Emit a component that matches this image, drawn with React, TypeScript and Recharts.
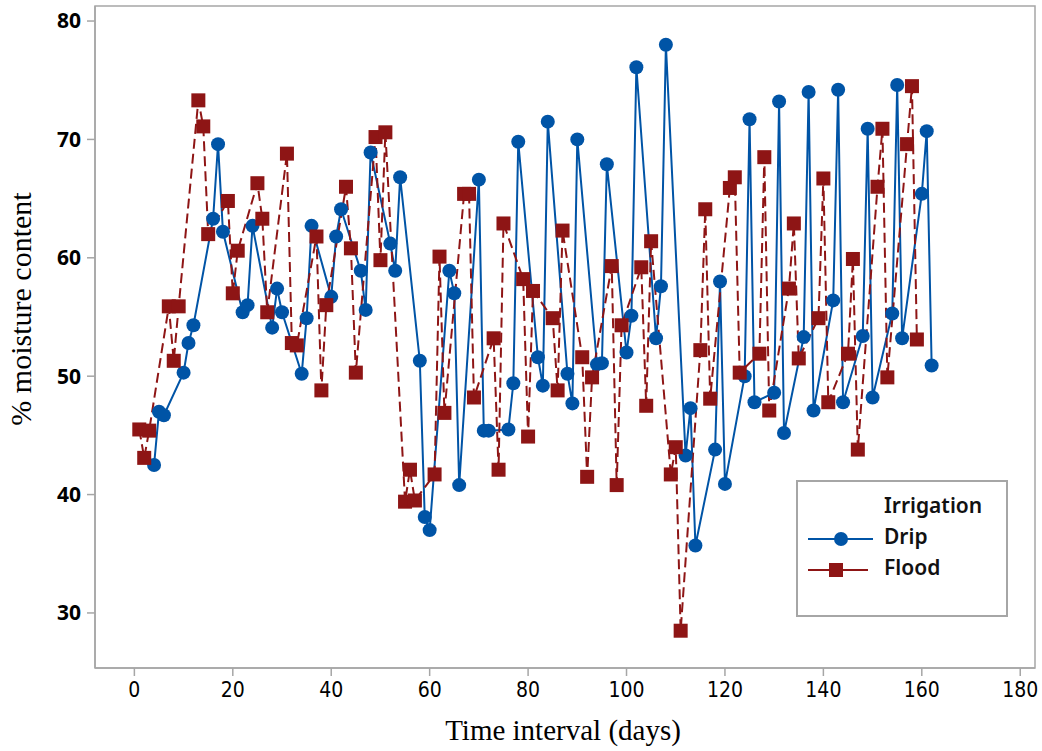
import React from "react";
import { LineChart, Line, XAxis, YAxis, ReferenceArea } from "recharts";

// days on which each irrigation plot was sampled
const dripDays = [
  4, 5, 6, 10, 11, 12, 16, 17, 18, 22, 23, 24, 28, 29, 30, 34, 35, 36, 40, 41,
  42, 46, 47, 48, 52, 53, 54, 58, 59, 60, 64, 65, 66, 70, 71, 72, 76, 77, 78,
  82, 83, 84, 88, 89, 90, 94, 95, 96, 100, 101, 102, 106, 107, 108, 112, 113,
  114, 118, 119, 120, 124, 125, 126, 130, 131, 132, 136, 137, 138, 142, 143,
  144, 148, 149, 150, 154, 155, 156, 160, 161, 162,
];
const dripValues = [
  42.5, 47.0, 46.7, 50.3, 52.8, 54.3, 63.3, 69.6, 62.2, 55.4, 56.0, 62.7, 54.1,
  57.4, 55.4, 50.2, 54.9, 62.7, 56.7, 61.8, 64.1, 58.9, 55.6, 68.9, 61.2, 58.9,
  66.8, 51.3, 38.1, 37.0, 58.9, 57.0, 40.8, 66.6, 45.4, 45.4, 45.5, 49.4, 69.8,
  51.6, 49.2, 71.5, 50.2, 47.7, 70.0, 51.0, 51.1, 67.9, 52.0, 55.1, 76.1, 53.2,
  57.6, 78.0, 43.3, 47.3, 35.7, 43.8, 58.0, 40.9, 50.0, 71.7, 47.8, 48.6, 73.2,
  45.2, 53.3, 74.0, 47.1, 56.4, 74.2, 47.8, 53.4, 70.9, 48.2, 55.3, 74.6, 53.2,
  65.4, 70.7, 50.9,
];

const floodDays = [
  1, 2, 3, 7, 8, 9, 13, 14, 15, 19, 20, 21, 25, 26, 27, 31, 32, 33, 37, 38, 39,
  43, 44, 45, 49, 50, 51, 55, 56, 57, 61, 62, 63, 67, 68, 69, 73, 74, 75, 79,
  80, 81, 85, 86, 87, 91, 92, 93, 97, 98, 99, 103, 104, 105, 109, 110, 111,
  115, 116, 117, 121, 122, 123, 127, 128, 129, 133, 134, 135, 139, 140, 141,
  145, 146, 147, 151, 152, 153, 157, 158, 159,
];
const floodValues = [
  45.5, 43.1, 45.4, 55.9, 51.3, 55.9, 73.3, 71.1, 62.0, 64.8, 57.0, 60.6, 66.3,
  63.3, 55.4, 68.8, 52.8, 52.6, 61.8, 48.8, 56.0, 66.0, 60.8, 50.3, 70.2, 59.8,
  70.6, 39.4, 42.1, 39.5, 41.7, 60.1, 46.9, 65.4, 65.4, 48.2, 53.2, 42.1, 62.9,
  58.2, 44.9, 57.2, 54.9, 48.8, 62.3, 51.6, 41.5, 49.9, 59.3, 40.8, 54.3, 59.2,
  47.5, 61.4, 41.7, 44.0, 28.5, 52.2, 64.1, 48.1, 65.9, 66.8, 50.3, 51.9, 68.5,
  47.1, 57.4, 62.9, 51.5, 54.9, 66.7, 47.8, 51.9, 59.9, 43.8, 66.0, 70.9, 49.9,
  69.6, 74.5, 53.1,
];

const xTicks = [0, 20, 40, 60, 80, 100, 120, 140, 160, 180];
const yTicks = [30, 40, 50, 60, 70, 80];

const dripData = dripDays.map((day, i) => ({ day, value: dripValues[i] }));
const floodData = floodDays.map((day, i) => ({ day, value: floodValues[i] }));

const BLUE = "#0054A6";
const RED = "#8E1515";
const FRAME = "#A6A6A6";
const X_MIN = -8;
const X_MAX = 183;
const Y_MIN = 25.35;
const Y_MAX = 81.27;

const serif = "'Liberation Serif', 'DejaVu Serif', serif";

const SquareDot = (props: any) => {
  const { cx, cy, index } = props;
  if (cx == null || cy == null) return null;
  return (
    <rect key={`sq-${index}`} x={cx - 7} y={cy - 7} width={14} height={14} fill={RED} />
  );
};

const CircleDot = (props: any) => {
  const { cx, cy, index } = props;
  if (cx == null || cy == null) return null;
  return <circle key={`ci-${index}`} cx={cx} cy={cy} r={7} fill={BLUE} />;
};

const YTitle = () => (
  <text
    x={31}
    y={309}
    transform="rotate(-90 31 309)"
    textAnchor="middle"
    fill="#000"
    fontSize={30}
    fontFamily={serif}
  >
    % moisture content
  </text>
);

const XTitle = () => (
  <text
    x={563}
    y={740}
    textAnchor="middle"
    fill="#000"
    fontSize={29}
    fontFamily={serif}
  >
    Time interval (days)
  </text>
);

const LegendBox = () => (
  <div
    style={{
      position: "absolute",
      left: 796,
      top: 480,
      width: 208,
      height: 133,
      border: `2px solid ${FRAME}`,
      background: "#fff",
      fontFamily: "'Noto Sans', 'Open Sans', sans-serif",
      fontSize: 21,
      fontWeight: 600,
      color: "#111",
      lineHeight: 1,
    }}
  >
    <div style={{ position: "absolute", left: 86, top: 13 }}>Irrigation</div>
    <svg width={80} height={100} style={{ position: "absolute", left: 0, top: 0 }}>
      <line x1={10} x2={75} y1={57} y2={57} stroke={BLUE} strokeWidth={2} />
      <circle cx={43} cy={57} r={7} fill={BLUE} />
      <line x1={10} x2={70} y1={88} y2={88} stroke={RED} strokeWidth={2} />
      <rect x={31} y={81} width={14} height={14} fill={RED} />
    </svg>
    <div style={{ position: "absolute", left: 86, top: 44 }}>Drip</div>
    <div style={{ position: "absolute", left: 86, top: 75 }}>Flood</div>
  </div>
);

export default function App() {
  return (
    <div style={{ position: "absolute", left: 0, top: 0, width: 1042, height: 751, background: "#fff" }}>
      <LineChart
        width={1042}
        height={751}
        margin={{ top: 6, right: 7, bottom: 0, left: 0 }}
      >
        <XAxis
          type="number"
          dataKey="day"
          domain={[X_MIN, X_MAX]}
          ticks={xTicks}
          allowDataOverflow
          height={83}
          stroke={FRAME}
          strokeWidth={1.5}
          tickSize={8}
          tickMargin={6}
          tick={{
            fill: "#000",
            fontSize: 21,
            fontFamily: "'Liberation Sans Narrow', 'DejaVu Sans Condensed', sans-serif",
          }}
          label={<XTitle />}
        />
        <YAxis
          type="number"
          domain={[Y_MIN, Y_MAX]}
          ticks={yTicks}
          allowDataOverflow
          width={95}
          stroke={FRAME}
          strokeWidth={1.5}
          tickSize={8}
          tickMargin={6}
          tick={{
            fill: "#000",
            fontSize: 21,
            fontWeight: 700,
            fontFamily: "'Noto Sans', 'Open Sans', sans-serif",
          }}
          label={<YTitle />}
        />
        <ReferenceArea
          x1={X_MIN}
          x2={X_MAX}
          y1={Y_MIN}
          y2={Y_MAX}
          fill="none"
          fillOpacity={0}
          stroke={FRAME}
          strokeWidth={1.5}
        />
        <Line
          name="Drip"
          data={dripData}
          dataKey="value"
          type="linear"
          stroke={BLUE}
          strokeWidth={2}
          dot={CircleDot}
          activeDot={false}
          isAnimationActive={false}
        />
        <Line
          name="Flood"
          data={floodData}
          dataKey="value"
          type="linear"
          stroke={RED}
          strokeWidth={2}
          strokeDasharray="10 5"
          dot={SquareDot}
          activeDot={false}
          isAnimationActive={false}
        />
      </LineChart>
      <LegendBox />
    </div>
  );
}
